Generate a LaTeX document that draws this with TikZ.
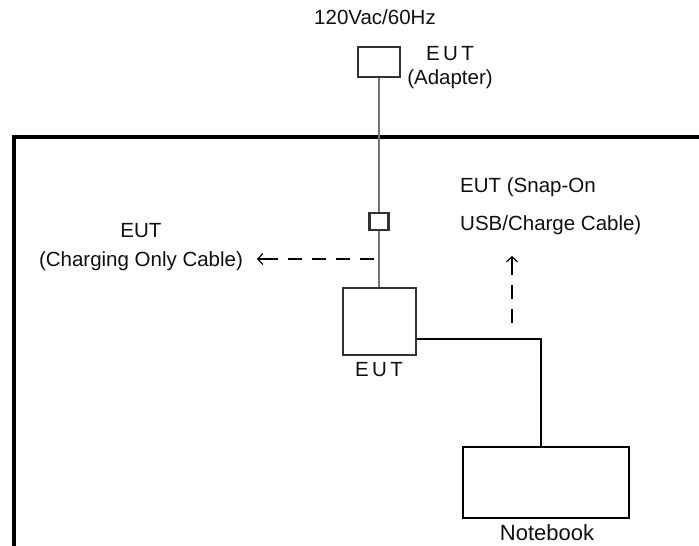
\documentclass[tikz,border=0pt]{standalone}
\usepackage{fontspec}
\setmainfont{Liberation Sans}
\usetikzlibrary{arrows.meta}
\definecolor{cablegray}{HTML}{747474}
\definecolor{boxgray}{HTML}{333333}
\definecolor{txt}{HTML}{101010}
\tikzset{
  unitbox/.style={draw=boxgray, line width=2.2pt, fill=white, inner sep=0pt},
  cable/.style={draw=cablegray, line width=2.8pt},
  wire/.style={draw=black, line width=2pt},
  dashwire/.style={draw=black, line width=2pt, dash pattern=on 14pt off 10pt},
  lbl/.style={text=txt, inner sep=0pt, font=\fontsize{20.5}{24}\selectfont},
  tipstyle/.style={-{Straight Barb[length=5pt,width=11pt,line width=1.2pt]}}
}
\begin{document}
\begin{tikzpicture}[x=1pt,y=-1pt]
\useasboundingbox (0,0) rectangle (699,546);
% outer frame
\draw[line width=4pt, line cap=rect] (14,548) -- (14,137) -- (701,137);
% units
\node[unitbox, minimum width=42pt, minimum height=30pt] (adapter) at (379,62) {};
\node[unitbox, minimum width=19pt, minimum height=17pt] (conn) at (379,221.5) {};
\node[unitbox, minimum width=73pt, minimum height=67pt] (eut) at (379.5,321.5) {};
\node[draw=black, line width=2pt, inner sep=0pt, minimum width=166pt, minimum height=71pt] (notebook) at (546,482.5) {};
% cables
\draw[cable] (adapter.south) -- (conn.north);
\draw[cable] (conn.south) -- (eut.north -| conn.south);
\coordinate (j) at (541,339);
\draw[wire] (eut.east |- j) -- (j) -- (notebook.north -| j);
% labels
\node[lbl] (mains) at (375,17) {120Vac/60Hz};
\node[lbl, align=center] (adlbl) at (450,68) {E\,U\,T\\(Adapter)};
\node[lbl, align=center, font=\fontsize{20.5}{29}\selectfont] (chlbl) at (141,247) {EUT\\(Charging Only Cable)};
\node[lbl, align=left, anchor=west, font=\fontsize{20.5}{38}\selectfont] (snaplbl) at (460,206) {EUT (Snap-On\\USB/Charge Cable)};
\node[lbl] (eutlbl) at (379,370) {E\,U\,T};
\node[lbl, font=\fontsize{22}{26}\selectfont] (nblbl) at (547,533) {Notebook};
% dashed pointers
\coordinate (hs) at (374,259);
\coordinate (he) at (257,259);
\draw[dashwire] (hs) -- (269,259);
\draw[line width=1.2pt, tipstyle] (269,259) -- (he);
\coordinate (vs) at (512,323);
\coordinate (ve) at (512,256);
\draw[dashwire] (vs) -- (512,268);
\draw[line width=1.2pt, tipstyle] (512,268) -- (ve);
\end{tikzpicture}
\end{document}
